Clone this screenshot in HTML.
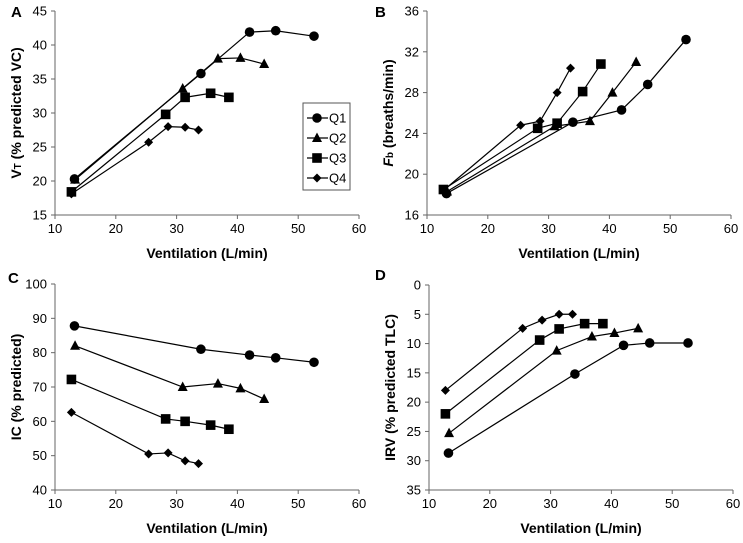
<!DOCTYPE html>
<html><head><meta charset="utf-8"><style>
body{margin:0;background:#fff}
text{font-family:"Liberation Sans",Arial,sans-serif}
</style></head><body>
<svg id="s" width="743" height="538" xmlns="http://www.w3.org/2000/svg"></svg>
<script>
const vent = [[13.2,34,42,46.3,52.6],[13.3,31,36.8,40.5,44.4],[12.7,28.2,31.4,35.6,38.6],[12.7,25.4,28.6,31.4,33.6]];
const vtVals = [[20.3,35.8,41.9,42.1,41.3],[20.2,33.6,38,38.1,37.2],[18.4,29.8,32.3,32.9,32.3],[18.1,25.7,28,27.9,27.5]];
const fbVals = [[18.1,25.1,26.3,28.8,33.2],[18.3,24.7,25.2,28,31],[18.5,24.5,25,28.1,30.8],[18.4,24.8,25.2,28,30.4]];
const icVals = [[87.8,81,79.3,78.5,77.2],[82,70,71,69.6,66.5],[72.2,60.7,60,58.9,57.7],[62.6,50.5,50.8,48.5,47.7]];
const irvVals = [[28.7,15.2,10.3,9.9,9.9],[25.3,11.2,8.8,8.2,7.4],[22,9.4,7.5,6.6,6.6],[18,7.4,6,5,5]];
const seriesNames = ["Q1","Q2","Q3","Q4"];
const xTicks = [10,20,30,40,50,60];
const yTicksA = [15,20,25,30,35,40,45];
const yTicksB = [16,20,24,28,32,36];
const yTicksC = [40,50,60,70,80,90,100];
const yTicksD = [0,5,10,15,20,25,30,35];

const svg=document.getElementById('s');
const NS="http://www.w3.org/2000/svg";
function mk(t,a,p){const e=document.createElementNS(NS,t);for(const k in a)e.setAttribute(k,a[k]);(p||svg).appendChild(e);return e;}
function marker(g,k,x,y){
  let e;
  if(k===0)e=mk('circle',{cx:x,cy:y,r:4.8,fill:'#000'},g);
  else if(k===1)e=mk('polygon',{points:`${x},${y-5.5} ${x+5},${y+4} ${x-5},${y+4}`,fill:'#000'},g);
  else if(k===2)e=mk('rect',{x:x-4.8,y:y-4.8,width:9.6,height:9.6,fill:'#000'},g);
  else e=mk('polygon',{points:`${x},${y-4.5} ${x+4.5},${y} ${x},${y+4.5} ${x-4.5},${y}`,fill:'#000'},g);
  
  
}
function panel(id,letter,lx,ly,x0,x1,y0,y1,ymin,ymax,yTicks,vals,ytitle,rev){
  const g=mk('g',{});
  
  
  const sx=v=>x0+(v-10)/50*(x1-x0);
  const sy=v=>rev? y0+(v-ymin)/(ymax-ymin)*(y1-y0) : y1-(v-ymin)/(ymax-ymin)*(y1-y0);
  const L=mk('text',{x:lx,y:ly,'font-size':15,'font-weight':'bold'},g);L.textContent=letter;
  
  const ax=mk('path',{d:`M${x0},${y0}V${y1}H${x1}`,stroke:'#666',fill:'none','stroke-width':1},g);
  
  xTicks.forEach(t=>{const x=sx(t);mk('line',{x1:x,x2:x,y1:y1,y2:y1+4,stroke:'#666'},g);
    const tx=mk('text',{x:x,y:y1+18,'font-size':13,'text-anchor':'middle'},g);tx.textContent=t;
    });
  yTicks.forEach(t=>{const y=sy(t);mk('line',{x1:x0-4,x2:x0,y1:y,y2:y,stroke:'#666'},g);
    const tx=mk('text',{x:x0-8,y:y+4.5,'font-size':13,'text-anchor':'end'},g);tx.textContent=t;
    });
  const xt=mk('text',{x:(x0+x1)/2,y:y1+43,'font-size':14,'font-weight':'bold','text-anchor':'middle'},g);
  xt.textContent='Ventilation (L/min)';
  const yt=mk('text',{x:0,y:0,'font-size':14,'font-weight':'bold','text-anchor':'middle',transform:`translate(${x0-34},${(y0+y1)/2}) rotate(-90)`},g);
  yt.innerHTML=ytitle;
  vals.forEach((arr,k)=>{
    const d=arr.map((v,i)=>(i?'L':'M')+sx(vent[k][i])+','+sy(v)).join('');
    const p=mk('path',{d:d,stroke:'#000','stroke-width':1.2,fill:'none'},g);
    
    arr.forEach((v,i)=>marker(g,k,sx(vent[k][i]),sy(v)));
  });
}
panel('a','A',11,17,55,359,11,215,15,45,yTicksA,vtVals,'V<tspan font-size="10">T</tspan> (% predicted VC)',false);
panel('b','B',375,17,427,731,11,215,16,36,yTicksB,fbVals,'<tspan font-style="italic">F</tspan><tspan font-size="10">b</tspan> (breaths/min)',false);
panel('c','C',8,283,55,359,284,490,40,100,yTicksC,icVals,'IC (% predicted)',false);
panel('d','D',375,280,429,733,285,490,0,35,yTicksD,irvVals,'IRV (% predicted TLC)',true);
// legend
const lg=mk('g',{});


mk('rect',{x:303,y:103,width:47,height:87,fill:'#fff',stroke:'#555'},lg);
seriesNames.forEach((n,k)=>{const y=118+k*20;
  const e=mk('g',{},lg);
  
  
  mk('line',{x1:307,x2:328,y1:y,y2:y,stroke:'#000','stroke-width':1.2},e);
  marker(e,k,317,y);
  const t=mk('text',{x:329,y:y+4.5,'font-size':13},e);t.textContent=n;});
</script>
</body></html>
